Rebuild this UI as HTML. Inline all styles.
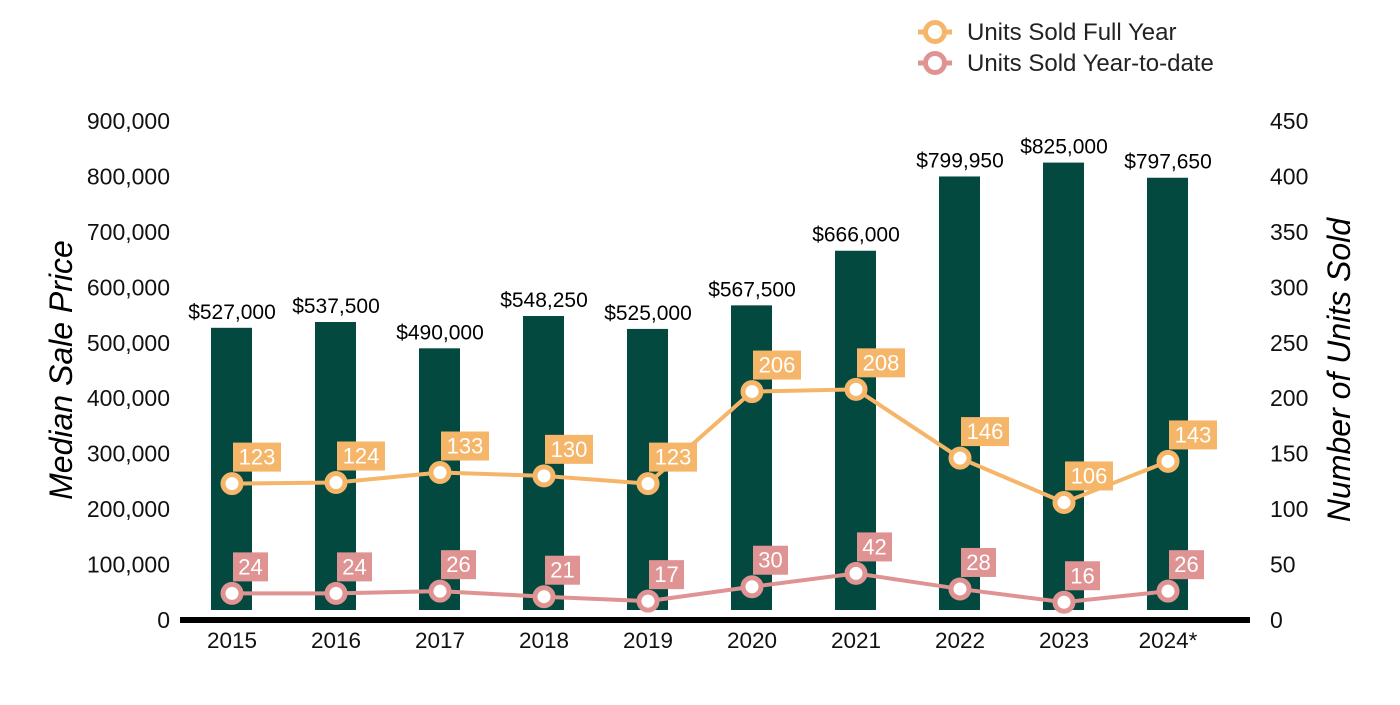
<!DOCTYPE html>
<html><head><meta charset="utf-8"><style>
body{margin:0;background:#fff;}
svg text{font-family:"Liberation Sans",Arial,sans-serif;}
</style></head><body>
<svg id="chart" width="1400" height="700" xmlns="http://www.w3.org/2000/svg">
<g id="axes"></g><g id="bars"></g><g id="lines"></g>
<g>
 <g>
  <line x1="918" y1="32" x2="952" y2="32" stroke="#f5b66a" stroke-width="5"/>
  <circle cx="935" cy="32" r="9.5" fill="#fff" stroke="#f5b66a" stroke-width="5"/>
  <text x="967" y="40" font-size="24" fill="#222">Units Sold Full Year</text>
 </g>
 <g>
  <line x1="918" y1="63" x2="952" y2="63" stroke="#e09393" stroke-width="5"/>
  <circle cx="935" cy="63" r="9.5" fill="#fff" stroke="#e09393" stroke-width="5"/>
  <text x="967" y="71" font-size="24" fill="#222">Units Sold Year-to-date</text>
 </g>
</g>
<text transform="translate(72,370) rotate(-90)" text-anchor="middle" font-size="32" font-style="italic" fill="#000">Median Sale Price</text>
<text transform="translate(1350,370) rotate(-90)" text-anchor="middle" font-size="32" font-style="italic" fill="#000">Number of Units Sold</text>
</svg>
<script>
const categories=["2015","2016","2017","2018","2019","2020","2021","2022","2023","2024*"];
const prices=[527000,537500,490000,548250,525000,567500,666000,799950,825000,797650];
const priceLabels=["$527,000","$537,500","$490,000","$548,250","$525,000","$567,500","$666,000","$799,950","$825,000","$797,650"];
const unitsFull=[123,124,133,130,123,206,208,146,106,143];
const unitsYtd=[24,24,26,21,17,30,42,28,16,26];
const leftTicks=[0,100000,200000,300000,400000,500000,600000,700000,800000,900000];
const rightTicks=[0,50,100,150,200,250,300,350,400,450];
const NS="http://www.w3.org/2000/svg";
const y0=620,yTop=121;
const yL=v=>y0-(v/900000)*(y0-yTop);
const yR=v=>y0-(v/450)*(y0-yTop);
const xC=i=>232+i*104;
function mk(tag,attrs,parent,txt){const e=document.createElementNS(NS,tag);for(const k in attrs)e.setAttribute(k,attrs[k]);if(txt!==undefined)e.textContent=txt;parent.appendChild(e);return e;}
const axes=document.getElementById('axes'),bars=document.getElementById('bars'),lines=document.getElementById('lines');
leftTicks.forEach(t=>{const e=mk('text',{x:170,y:yL(t)+8,'text-anchor':'end','font-size':23,fill:'#111'},axes,t.toLocaleString('en-US'));

});
rightTicks.forEach(t=>{const e=mk('text',{x:1270,y:yR(t)+8,'text-anchor':'start','font-size':23,fill:'#111'},axes,String(t));

});
categories.forEach((c,i)=>{const e=mk('text',{x:xC(i),y:648,'text-anchor':'middle','font-size':22.5,fill:'#111'},axes,c);

});
prices.forEach((p,i)=>{const top=yL(p);
const r=mk('rect',{x:xC(i)-21,y:top,width:41,height:610-top,fill:'#03493f'},bars);


const t=mk('text',{x:xC(i),y:top-9,'text-anchor':'middle','font-size':21,fill:'#000'},bars,priceLabels[i]);

});
const ax=mk('line',{x1:180,y1:620,x2:1250,y2:620,stroke:'#000','stroke-width':6},axes);


function series(vals,color,name){
 const pts=vals.map((v,i)=>xC(i)+','+yR(v)).join(' ');
 const pl=mk('polyline',{points:pts,fill:'none',stroke:color,'stroke-width':4},lines);
 
 
 vals.forEach((v,i)=>{const cx=xC(i),cy=yR(v);
  const c=mk('circle',{cx:cx,cy:cy,r:9,fill:'#fff',stroke:color,'stroke-width':5},lines);
  
  
  const s=String(v);const w=s.length>2?48:35;
  const b=mk('rect',{x:cx+1,y:cy-41,width:w,height:29,fill:color},lines);
  
  
  const t=mk('text',{x:cx+1+w/2,y:cy-19,'text-anchor':'middle','font-size':22,fill:'#fff'},lines,s);
  
  });
}
series(unitsFull,'#f5b66a','units-full-year');
series(unitsYtd,'#e09393','units-ytd');
</script>
</body></html>
